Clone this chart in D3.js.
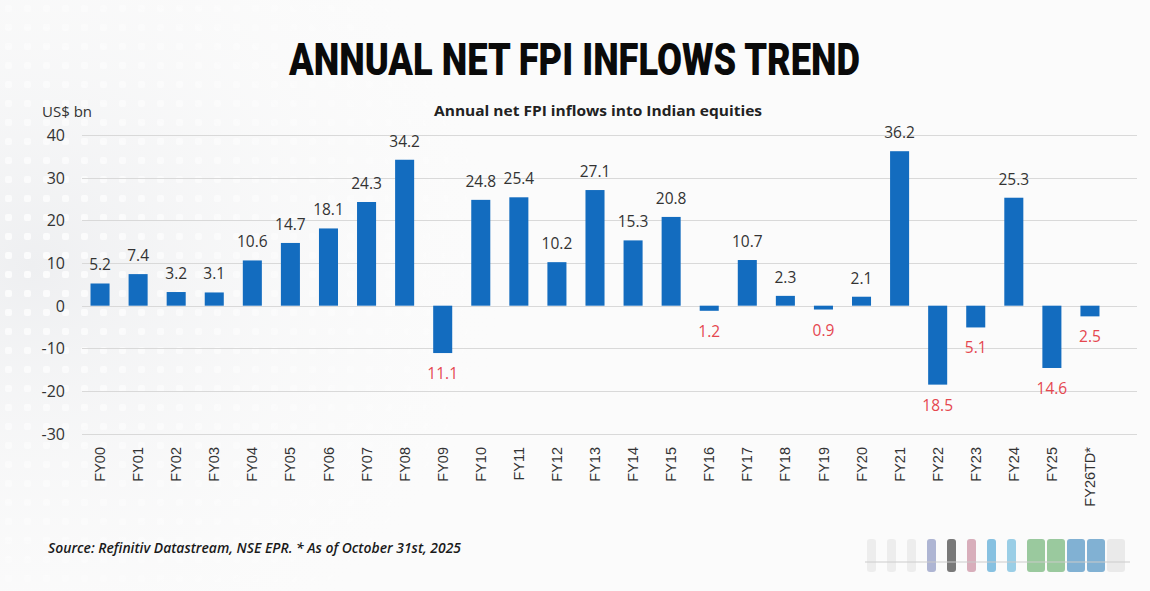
<!DOCTYPE html>
<html>
<head>
<meta charset="utf-8">
<script src="https://cdn.jsdelivr.net/npm/d3@7"></script>
<style>
  html, body { margin: 0; padding: 0; background: #fbfbfb; }
  svg { display: block; }
</style>
</head>
<body>
<svg id="chart" width="1150" height="591"></svg>
<script>
// ---- data ----
const categories = ["FY00","FY01","FY02","FY03","FY04","FY05","FY06","FY07","FY08","FY09",
  "FY10","FY11","FY12","FY13","FY14","FY15","FY16","FY17","FY18","FY19",
  "FY20","FY21","FY22","FY23","FY24","FY25","FY26TD*"];
const values = [5.2, 7.4, 3.2, 3.1, 10.6, 14.7, 18.1, 24.3, 34.2, -11.1,
  24.8, 25.4, 10.2, 27.1, 15.3, 20.8, -1.2, 10.7, 2.3, -0.9,
  2.1, 36.2, -18.5, -5.1, 25.3, -14.6, -2.5];
const yTicks = [-30, -20, -10, 0, 10, 20, 30, 40];
const titleText = "ANNUAL NET FPI INFLOWS TREND";
const subtitleText = "Annual net FPI inflows into Indian equities";
const yUnitText = "US$ bn";
const sourceText = "Source: Refinitiv Datastream, NSE EPR. * As of October 31st, 2025";

const data = categories.map((c, i) => ({ cat: c, val: values[i] }));

const svg = d3.select("#chart");
const W = 1150, H = 591;

// background with faint dot pattern on the left
const defs = svg.append("defs");
const pat = defs.append("pattern").attr("id", "dots").attr("width", 19).attr("height", 19)
  .attr("patternUnits", "userSpaceOnUse");
pat.append("rect").attr("x", 5).attr("y", 5).attr("width", 7).attr("height", 7)
  .attr("rx", 2).attr("fill", "#ffffff");
const fade = defs.append("radialGradient").attr("id", "fade")
  .attr("cx", 0.05).attr("cy", 0.45).attr("r", 0.75);
fade.append("stop").attr("offset", 0).attr("stop-color", "white").attr("stop-opacity", 1);
fade.append("stop").attr("offset", 1).attr("stop-color", "white").attr("stop-opacity", 0);
const mask = defs.append("mask").attr("id", "dotmask");
mask.append("rect").attr("x", 0).attr("y", 0).attr("width", 640).attr("height", H).attr("fill", "url(#fade)");
const bgGrad = defs.append("radialGradient").attr("id", "bgshade")
  .attr("cx", 0.05).attr("cy", 0.45).attr("r", 0.75);
bgGrad.append("stop").attr("offset", 0).attr("stop-color", "#eeeff1").attr("stop-opacity", 1);
bgGrad.append("stop").attr("offset", 1).attr("stop-color", "#fbfbfb").attr("stop-opacity", 0);

svg.append("rect").attr("width", W).attr("height", H).attr("fill", "#fbfbfb");
svg.append("rect").attr("x", 0).attr("y", 0).attr("width", 640).attr("height", H)
  .attr("fill", "url(#bgshade)");
svg.append("rect").attr("x", 0).attr("y", 0).attr("width", 640).attr("height", H)
  .attr("fill", "url(#dots)").attr("mask", "url(#dotmask)").attr("opacity", 0.8);

// scales
const x = d3.scaleBand().domain(categories).range([81, 1109]).paddingInner(0.5).paddingOuter(0.25);
const y = d3.scaleLinear().domain([-30, 40]).range([433.7, 135]);

const gridX0 = 82, gridX1 = 1137;

// gridlines
svg.append("g").selectAll("line").data(yTicks).join("line")
  .attr("x1", gridX0).attr("x2", gridX1)
  .attr("y1", d => Math.round(y(d)) + 0.5).attr("y2", d => Math.round(y(d)) + 0.5)
  .attr("stroke", "#d9d9d9").attr("stroke-width", 1.2);

// y axis labels
const yAxis = d3.axisLeft(y).tickValues(yTicks).tickFormat(d => String(d)).tickSize(0).tickPadding(0);
const gy = svg.append("g").attr("transform", "translate(65,0)").call(yAxis);
gy.select(".domain").remove();
gy.selectAll("text")
  .attr("font-family", "'Open Sans', 'Liberation Sans', sans-serif")
  .attr("font-size", 16).attr("fill", "#333").attr("dy", "0.35em");

// unit label
svg.append("text").attr("x", 42).attr("y", 117)
  .attr("font-family", "'Open Sans', 'Liberation Sans', sans-serif")
  .attr("font-size", 15).attr("fill", "#333").text(yUnitText);

// bars
svg.append("g").selectAll("rect").data(data).join("rect")
  .attr("x", d => x(d.cat))
  .attr("width", x.bandwidth())
  .attr("y", d => y(Math.max(0, d.val)))
  .attr("height", d => Math.abs(y(d.val) - y(0)))
  .attr("fill", "#136cbf");

// value labels
svg.append("g").selectAll("text").data(data).join("text")
  .attr("x", d => x(d.cat) + x.bandwidth() / 2)
  .attr("y", d => d.val >= 0 ? y(d.val) - 13 : y(d.val) + 26)
  .attr("text-anchor", "middle")
  .attr("font-family", "'Open Sans', 'Liberation Sans', sans-serif")
  .attr("font-size", 15.5)
  .attr("fill", d => d.val >= 0 ? "#333" : "#e5474f")
  .text(d => Math.abs(d.val).toFixed(1));

// x axis labels (rotated)
const xAxis = d3.axisBottom(x).tickSize(0).tickPadding(0);
const gx = svg.append("g").attr("transform", "translate(0,447)").call(xAxis);
gx.select(".domain").remove();
gx.selectAll("text")
  .attr("font-family", "'Liberation Sans', Arial, sans-serif")
  .attr("font-size", 14.5).attr("fill", "#333")
  .attr("transform", "rotate(-90)")
  .attr("text-anchor", "end")
  .attr("x", 0).attr("y", 0).attr("dy", "0.35em");

// title
svg.append("text").attr("x", 289).attr("y", 75)
  .attr("font-family", "Roboto, 'Liberation Sans', sans-serif")
  .attr("font-weight", 900).attr("font-size", 44).attr("fill", "#0a0a0a")
  .attr("textLength", 571).attr("lengthAdjust", "spacingAndGlyphs")
  .text(titleText);

// subtitle
svg.append("text").attr("x", 434).attr("y", 116)
  .attr("font-family", "'Open Sans', sans-serif")
  .attr("font-weight", 700).attr("font-size", 15).attr("fill", "#222")
  .attr("textLength", 328).attr("lengthAdjust", "spacingAndGlyphs")
  .text(subtitleText);

// source
svg.append("text").attr("x", 48).attr("y", 553)
  .attr("font-family", "'Open Sans', sans-serif")
  .attr("font-weight", 600).attr("font-style", "italic").attr("font-size", 14).attr("fill", "#1a1a1a")
  .attr("textLength", 413).attr("lengthAdjust", "spacingAndGlyphs")
  .text(sourceText);

// faint watermark logo (decorative)
const wmColors = ["#d8d8d8","#d8d8d8","#d8d8d8","#7a86b8","#222","#c07a90","#3a9bd0","#5ab0d8","#5aa860","#5aa860","#2f7fb8","#2f7fb8","#cfcfcf"];
const wmX = d3.scalePoint().domain(d3.range(wmColors.length)).range([872, 1112]);
const wm = svg.append("g").attr("opacity", 0.75);
wm.selectAll("rect").data(wmColors).join("rect")
  .attr("x", (d, i) => wmX(i) - 5)
  .attr("y", 539)
  .attr("width", (d, i) => (i >= 8 ? 18 : 9))
  .attr("height", 33)
  .attr("rx", 3)
  .attr("fill", d => d)
  .attr("opacity", (d, i) => i < 3 || i === 12 ? 0.5 : 0.8);
wm.append("line").attr("x1", 865).attr("x2", 1130).attr("y1", 562).attr("y2", 562)
  .attr("stroke", "#bbb").attr("stroke-width", 1);
</script>
</body>
</html>
